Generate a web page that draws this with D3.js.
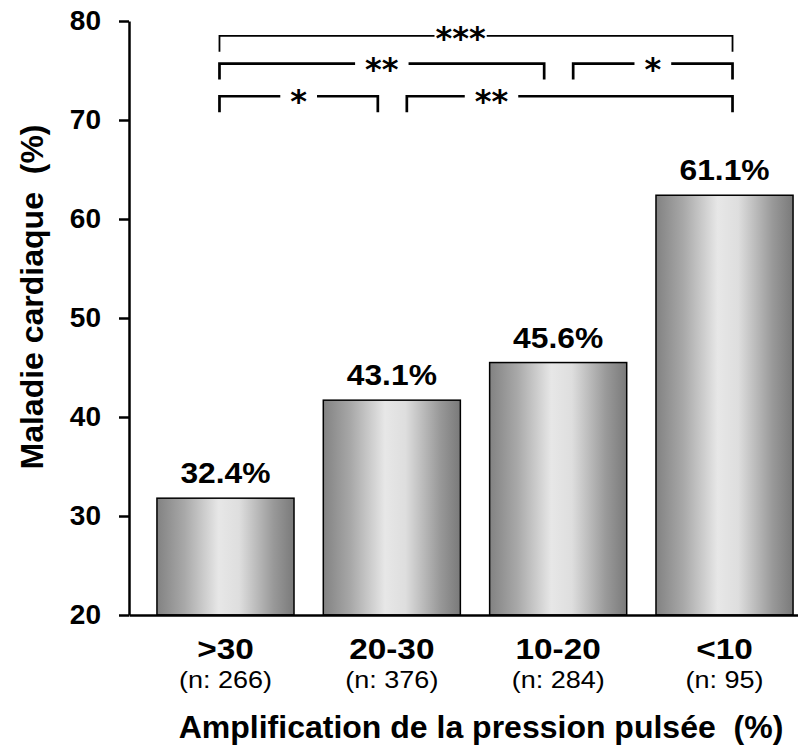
<!DOCTYPE html>
<html><head><meta charset="utf-8">
<script src="https://cdn.jsdelivr.net/npm/d3@7"></script>
<style>html,body{margin:0;padding:0;background:#fff}svg{display:block}</style>
</head><body>
<script>
// ---------------- data ----------------
const categories   = [">30", "20-30", "10-20", "<10"];
const sampleSizes  = ["(n: 266)", "(n: 376)", "(n: 284)", "(n: 95)"];
const barValues    = [31.8, 41.7, 45.5, 62.4];
const barLabels    = ["32.4%", "43.1%", "45.6%", "61.1%"];
const yTickValues  = [20, 30, 40, 50, 60, 70, 80];
const bracketFrom  = [0, 0, 2, 0, 1];
const bracketTo    = [3, 2, 3, 1, 3];
const bracketLevel = [78.5, 75.7, 75.7, 72.4, 72.4];
const bracketText  = ["***", "**", "*", "*", "**"];
const yTitle = "Maladie cardiaque\u00A0 (%)";
const xTitle = "Amplification de la pression pulsée\u00A0 (%)";

// ---------------- layout ----------------
const W = 798, H = 749;
const axisX = 129, axisBottom = 615, axisTop = 21;
const font = "'Liberation Sans', Arial, Helvetica, sans-serif";
const bracketLabelFrac = [0.47, 0.5, 0.5, 0.5, 0.26];
const bracketStroke    = [1.8, 2.7, 2.7, 2.7, 2.7];

const svg = d3.select("body").append("svg").attr("width", W).attr("height", H);

const defs = svg.append("defs");
const grad = defs.append("linearGradient").attr("id", "barGrad")
  .attr("x1", 0).attr("x2", 1).attr("y1", 0).attr("y2", 0);
[[0, "#828282"], [0.2, "#a8a8a8"], [0.45, "#e7e7e7"], [0.6, "#dedede"], [0.85, "#999999"], [1, "#7a7a7a"]]
  .forEach(([o, c]) => grad.append("stop").attr("offset", o).attr("stop-color", c));

const x = d3.scaleBand().domain(categories).range([axisX, 821])
  .paddingInner(0.176).paddingOuter(0.168);
const y = d3.scaleLinear().domain([20, 80]).range([axisBottom, axisTop]);
const cx = d => x(d) + x.bandwidth() / 2;

// bars
svg.append("g").selectAll("rect").data(categories).join("rect")
  .attr("x", d => x(d))
  .attr("y", (d, i) => y(barValues[i]))
  .attr("width", x.bandwidth())
  .attr("height", (d, i) => y(20) - y(barValues[i]))
  .attr("fill", "url(#barGrad)")
  .attr("stroke", "#000").attr("stroke-width", 1.5);

// bar value labels
svg.append("g").selectAll("text").data(categories).join("text")
  .attr("transform", (d, i) => `translate(${cx(d)},${y(barValues[i]) - 15}) scale(1.06,1)`)
  .attr("text-anchor", "middle")
  .style("font", `bold 30px ${font}`)
  .text((d, i) => barLabels[i]);

// y axis
const yAxis = svg.append("g").attr("transform", `translate(${axisX},0)`)
  .call(d3.axisLeft(y).tickValues(yTickValues).tickSize(10).tickSizeOuter(0).tickPadding(18));
yAxis.select(".domain").attr("stroke-width", 2.5);
yAxis.selectAll(".tick line").attr("stroke-width", 2.5);
yAxis.selectAll(".tick text").style("font", `bold 28px ${font}`).attr("fill", "#000");

// x axis
const xAxis = svg.append("g").attr("transform", `translate(0,${axisBottom})`)
  .call(d3.axisBottom(x).tickSize(0).tickSizeOuter(0).tickPadding(0));
xAxis.select(".domain").attr("stroke-width", 2.5);
xAxis.selectAll(".tick text")
  .attr("y", 0).attr("dy", 0)
  .attr("transform", "translate(0,44) scale(1.15,1)")
  .style("font", `bold 29px ${font}`).attr("fill", "#000");

// sample sizes
svg.append("g").selectAll("text").data(categories).join("text")
  .attr("transform", d => `translate(${cx(d)},${axisBottom + 73}) scale(1.15,1)`)
  .attr("text-anchor", "middle")
  .style("font", `23.5px ${font}`)
  .text((d, i) => sampleSizes[i]);

// axis titles
svg.append("text")
  .attr("transform", `translate(43,297) rotate(-90)`)
  .attr("text-anchor", "middle")
  .style("font", `bold 32px ${font}`)
  .text(yTitle);
svg.append("text")
  .attr("x", 481).attr("y", 738)
  .attr("text-anchor", "middle")
  .style("font", `bold 32px ${font}`)
  .text(xTitle);

// significance brackets
const bg = svg.append("g");
function endX(i, side) {
  const c = cx(categories[side === "L" ? bracketFrom[i] : bracketTo[i]]);
  const lvl = bracketLevel[i];
  if (side === "L") {
    const shared = bracketTo.some((t, j) => j !== i && bracketLevel[j] === lvl && t === bracketFrom[i]);
    return shared ? c + 15 : c - 6;
  } else {
    const shared = bracketFrom.some((f, j) => j !== i && bracketLevel[j] === lvl && f === bracketTo[i]);
    return shared ? c - 14 : c + 8;
  }
}
bracketText.forEach((lab, i) => {
  const x1 = endX(i, "L"), x2 = endX(i, "R");
  const yy = y(bracketLevel[i]);
  const leg = 16;
  const lx = x1 + (x2 - x1) * bracketLabelFrac[i];
  const t = bg.append("text")
    .attr("x", lx).attr("y", yy + (i === 0 ? 13 : 16))
    .attr("text-anchor", "middle")
    .style("font", `bold 32px 'DejaVu Sans', sans-serif`)
    .text(lab);
  const tw = t.node().getComputedTextLength();
  const pad = i === 0 ? 1 : 10;
  const g1 = lx - tw / 2 - pad, g2 = lx + tw / 2 + pad;
  bg.append("path")
    .attr("d", `M${x1},${yy + leg}V${yy}H${g1}M${g2},${yy}H${x2}V${yy + leg}`)
    .attr("fill", "none").attr("stroke", "#000")
    .attr("stroke-width", bracketStroke[i]);
});
</script>
</body></html>
